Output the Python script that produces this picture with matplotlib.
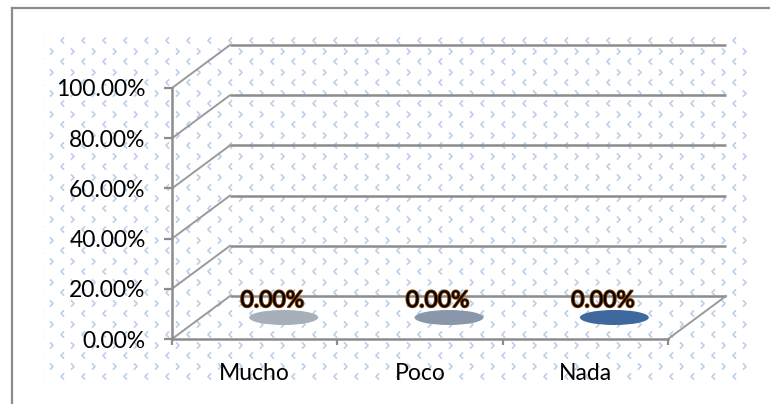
import numpy as np
import matplotlib
matplotlib.use("Agg")
import matplotlib.pyplot as plt
from matplotlib.patches import Ellipse
from matplotlib.path import Path
from matplotlib.lines import Line2D
import matplotlib.patheffects as pe

# ---- data ----
categories = ["Mucho", "Poco", "Nada"]
values = [0.0, 0.0, 0.0]
y_ticks = [0.0, 0.2, 0.4, 0.6, 0.8, 1.0]
bar_colors = ["#a7afb8", "#8a97ab", "#3e689e"]

plt.rcParams['font.family'] = ['Lato', 'DejaVu Sans']

W, H = 770, 404
fig = plt.figure(figsize=(W / 100, H / 100), dpi=100)
fig.patch.set_facecolor("white")

def fx(px):
    return px / W

def fy(py):
    return 1 - py / H

# ---- patterned background ----
bg = fig.add_axes([fx(43), fy(380), fx(751) - fx(43), fy(36) - fy(380)], zorder=0)
bg.set_xlim(43, 751)
bg.set_ylim(380, 36)
bg.axis("off")
left_chev = Path([(0.5, 1), (-0.5, 0), (0.5, -1)], [Path.MOVETO, Path.LINETO, Path.LINETO])
right_chev = Path([(-0.5, 1), (0.5, 0), (-0.5, -1)], [Path.MOVETO, Path.LINETO, Path.LINETO])
step = 21
gx1, gy1 = np.meshgrid(np.arange(41, 751, step), np.arange(40, 380, step))
gx2, gy2 = np.meshgrid(np.arange(51, 751, step), np.arange(51, 380, step))
bg.plot(gx1.ravel(), gy1.ravel(), ls="none", marker=left_chev, ms=4.5,
        mfc="none", mec="#bccfe8", mew=1.2)
bg.plot(gx2.ravel(), gy2.ravel(), ls="none", marker=right_chev, ms=4.5,
        mfc="none", mec="#bccfe8", mew=1.2)

# ---- outer border ----
fig.add_artist(Line2D([fx(12), 1], [fy(8), fy(8)], color="#8c8c8c", lw=1.6))
fig.add_artist(Line2D([fx(12), fx(12)], [fy(8), 0], color="#8c8c8c", lw=1.6))

# ---- main (front plane) axes ----
x0, x1, y0, y1 = 172, 668, 339, 88
ax = fig.add_axes([fx(x0), fy(y0), fx(x1) - fx(x0), fy(y1) - fy(y0)], zorder=2)
ax.patch.set_alpha(0)
n = len(categories)
ax.set_xlim(0, n)
ax.set_ylim(0, 1)

# depth vector in data units (58 px right, 43 px up)
DX = 58 / ((x1 - x0) / n)
DY = 43 / (y0 - y1)

grid_c = "#8c8c8c"
for v in y_ticks:
    ax.plot([DX, n + DX], [v + DY, v + DY], color=grid_c, lw=1.8, clip_on=False,
             solid_capstyle="butt")
    ax.plot([0, DX], [v, v + DY], color="#9a9a9a", lw=1.4, clip_on=False)
# right floor edge
ax.plot([n, n + DX], [0, DY], color="#9a9a9a", lw=1.4, clip_on=False)

# ellipses (zero-height cylinders)
for i, (val, c) in enumerate(zip(values, bar_colors)):
    e = Ellipse((i + 0.5 + DX / 2, val + DY / 2), width=69 / ((x1 - x0) / n),
                height=15 / (y0 - y1), facecolor=c, edgecolor="none",
                clip_on=False, zorder=3)
    ax.add_patch(e)
    ax.annotate(f"{val * 100:.2f}%", xy=(i + 0.5, val), xytext=(12.5, 23),
                textcoords="offset points", ha="center", va="baseline",
                fontsize=16.5, color="black", zorder=4, annotation_clip=False,
                path_effects=[pe.withStroke(linewidth=1.4, foreground="#7a3a08")])

# spines and ticks
for s in ["top", "right"]:
    ax.spines[s].set_visible(False)
for s in ["left", "bottom"]:
    ax.spines[s].set_color(grid_c)
    ax.spines[s].set_linewidth(1.8)
ax.set_yticks(y_ticks)
ax.set_yticklabels([f"{v * 100:.2f}%" for v in y_ticks])
ax.tick_params(axis="y", length=6, width=1.6, color=grid_c, pad=13,
               labelsize=16.5, labelcolor="black")
ax.set_xticks(np.arange(0, n + 1))
ax.set_xticklabels([])
ax.set_xticks(np.arange(n) + 0.5, minor=True)
ax.set_xticklabels(categories, minor=True)
ax.tick_params(axis="x", which="major", length=4, width=1.6, color=grid_c)
ax.tick_params(axis="x", which="minor", length=0, pad=17, labelsize=16.5,
               labelcolor="black")

fig.savefig("out.png", dpi=100)
